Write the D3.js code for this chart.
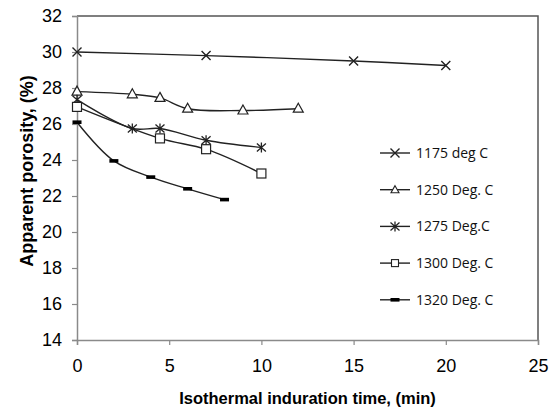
<!DOCTYPE html>
<html>
<head>
<meta charset="utf-8">
<script src="https://cdn.jsdelivr.net/npm/d3@7"></script>
<style>
  body { margin: 0; background: #fff; }
  svg { display: block; }
</style>
</head>
<body>
<svg id="chart" width="551" height="412"></svg>
<script>
// data
let seriesNames = ["1175 deg C", "1250 Deg. C", "1275 Deg.C", "1300 Deg. C", "1320 Deg. C"];
let markerTypes = ["cross", "triangle", "star", "square", "dash"];

let time1175 = [0, 7, 15, 20];
let por1175 = [30.0, 29.8, 29.5, 29.25];

let time1250 = [0, 3, 4.5, 6, 9, 12];
let por1250 = [27.8, 27.65, 27.45, 26.85, 26.75, 26.85];

let time1275 = [0, 3, 4.5, 7, 10];
let por1275 = [27.35, 25.75, 25.75, 25.1, 24.7];

let time1300 = [0, 4.5, 7, 10];
let por1300 = [26.95, 25.2, 24.6, 23.25];

let time1320 = [0, 2, 4, 6, 8];
let por1320 = [26.1, 23.95, 23.05, 22.4, 21.8];

let xTicks = [0, 5, 10, 15, 20, 25];
let yTicks = [14, 16, 18, 20, 22, 24, 26, 28, 30, 32];

let allTimes = [time1175, time1250, time1275, time1300, time1320];
let allPor = [por1175, por1250, por1275, por1300, por1320];

let svg = d3.select("#chart");
let margin = { left: 77, right: 13, top: 16, bottom: 72 };
let width = +svg.attr("width");
let height = +svg.attr("height");

let xScale = d3.scaleLinear().domain([0, 25]).range([margin.left, width - margin.right]);
let yScale = d3.scaleLinear().domain([14, 32]).range([height - margin.bottom, margin.top]);

let axisColor = "#8a8a8a";
let lineColor = "#222";

// plot frame (top and right)
svg.append("path")
    .attr("d", "M" + xScale(0) + "," + yScale(32) + "H" + xScale(25) + "V" + yScale(14))
    .attr("fill", "none")
    .attr("stroke", "#555")
    .attr("stroke-width", 1.5);

// axes
let xAxis = svg.append("g")
    .attr("transform", "translate(0," + yScale(14) + ")")
    .call(d3.axisBottom(xScale).tickValues(xTicks).tickSize(5).tickPadding(14));
let yAxis = svg.append("g")
    .attr("transform", "translate(" + xScale(0) + ",0)")
    .call(d3.axisLeft(yScale).tickValues(yTicks).tickSize(5).tickPadding(10));

[xAxis, yAxis].forEach(a => {
    a.select(".domain").attr("stroke", axisColor).attr("stroke-width", 1.5);
    a.selectAll(".tick line").attr("stroke", axisColor).attr("stroke-width", 1.2);
    a.selectAll(".tick text")
        .style("font-family", "Liberation Sans, Arial, sans-serif")
        .style("font-size", "18px")
        .attr("fill", "#000");
});

// axis titles
svg.append("text")
    .attr("x", (xScale(0) + xScale(25)) / 2)
    .attr("y", 404)
    .attr("text-anchor", "middle")
    .style("font-family", "Liberation Sans, Arial, sans-serif")
    .style("font-weight", "bold")
    .style("font-size", "16.5px")
    .text("Isothermal induration time, (min)");

svg.append("text")
    .attr("transform", "translate(33," + ((yScale(14) + yScale(32)) / 2 - 7) + ") rotate(-90)")
    .attr("text-anchor", "middle")
    .style("font-family", "Liberation Sans, Arial, sans-serif")
    .style("font-weight", "bold")
    .style("font-size", "18px")
    .text("Apparent porosity, (%)");

// marker drawing
function drawMarker(g, type, cx, cy) {
    if (type == "cross") {
        g.append("path")
            .attr("d", "M" + (cx - 4.5) + "," + (cy - 4.5) + "L" + (cx + 4.5) + "," + (cy + 4.5) +
                "M" + (cx - 4.5) + "," + (cy + 4.5) + "L" + (cx + 4.5) + "," + (cy - 4.5))
            .attr("stroke", lineColor).attr("stroke-width", 1.4).attr("fill", "none");
    } else if (type == "triangle") {
        g.append("path")
            .attr("d", "M" + cx + "," + (cy - 5.5) + "L" + (cx + 5) + "," + (cy + 3.5) + "L" + (cx - 5) + "," + (cy + 3.5) + "Z")
            .attr("stroke", lineColor).attr("stroke-width", 1.2).attr("fill", "#fff");
    } else if (type == "star") {
        g.append("path")
            .attr("d", "M" + (cx - 4.5) + "," + (cy - 4) + "L" + (cx + 4.5) + "," + (cy + 4) +
                "M" + (cx - 4.5) + "," + (cy + 4) + "L" + (cx + 4.5) + "," + (cy - 4) +
                "M" + cx + "," + (cy - 5) + "L" + cx + "," + (cy + 5))
            .attr("stroke", lineColor).attr("stroke-width", 1.3).attr("fill", "none");
    } else if (type == "square") {
        g.append("rect")
            .attr("x", cx - 4.5).attr("y", cy - 4.5).attr("width", 9).attr("height", 9)
            .attr("stroke", lineColor).attr("stroke-width", 1.2).attr("fill", "#fff");
    } else if (type == "dash") {
        g.append("rect")
            .attr("x", cx - 4.5).attr("y", cy - 1.8).attr("width", 9).attr("height", 3.6)
            .attr("fill", "#000");
    }
}

let line = d3.line()
    .x(d => xScale(d[0]))
    .y(d => yScale(d[1]))
    .curve(d3.curveCatmullRom.alpha(0.5));

// draw series
allTimes.forEach((times, i) => {
    let pts = times.map((t, j) => [t, allPor[i][j]]);
    let g = svg.append("g");
    g.append("path")
        .datum(pts)
        .attr("d", line)
        .attr("fill", "none")
        .attr("stroke", lineColor)
        .attr("stroke-width", 1.4);
    pts.forEach(p => drawMarker(g, markerTypes[i], xScale(p[0]), yScale(p[1])));
});

// legend
let legendX = 380;
let legendY = 153;
let legendStep = 36.7;
seriesNames.forEach((name, i) => {
    let y = legendY + i * legendStep;
    let g = svg.append("g");
    g.append("line")
        .attr("x1", legendX).attr("x2", legendX + 30)
        .attr("y1", y).attr("y2", y)
        .attr("stroke", lineColor).attr("stroke-width", 1.4);
    let mg = g.append("g");
    if (markerTypes[i] == "triangle") {
        mg.append("path")
            .attr("d", "M" + (legendX + 15) + "," + (y - 4) + "L" + (legendX + 19) + "," + (y + 3) + "L" + (legendX + 11) + "," + (y + 3) + "Z")
            .attr("stroke", lineColor).attr("stroke-width", 1.1).attr("fill", "#fff");
    } else if (markerTypes[i] == "square") {
        mg.append("rect")
            .attr("x", legendX + 11.5).attr("y", y - 3.5).attr("width", 7).attr("height", 7)
            .attr("stroke", lineColor).attr("stroke-width", 1.1).attr("fill", "#fff");
    } else {
        drawMarker(mg, markerTypes[i], legendX + 15, y);
    }
    g.append("text")
        .attr("x", legendX + 36)
        .attr("y", y)
        .attr("dy", "0.35em")
        .style("font-family", "Open Sans, Lato, sans-serif")
        .style("font-size", "14px")
        .attr("fill", "#111")
        .text(name);
});
</script>
</body>
</html>
